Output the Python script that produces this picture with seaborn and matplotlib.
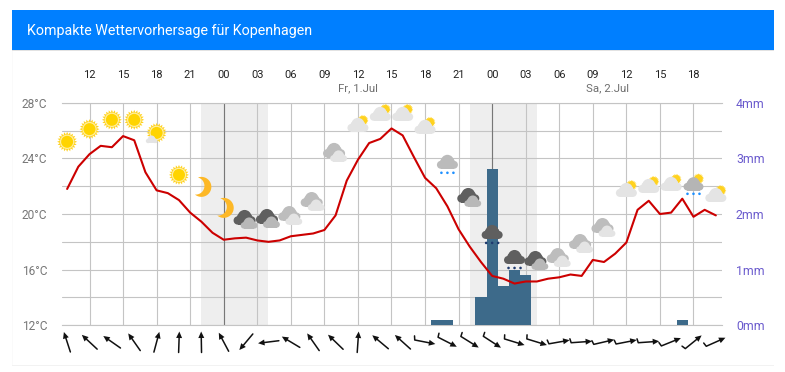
import numpy as np
import pandas as pd
import matplotlib
matplotlib.use('Agg')
import matplotlib.pyplot as plt
from matplotlib.patches import Circle, Polygon, Rectangle
from matplotlib.transforms import Affine2D, ScaledTranslation
import seaborn as sns

# Stunden seit Do 10:00, eine Messung pro Stunde
temperature = [21.8, 23.4, 24.3, 24.9, 24.8, 25.6, 25.3, 23.0, 21.7, 21.5, 21.0, 20.1, 19.45, 18.65,
               18.15, 18.25, 18.3, 18.1, 18.0, 18.1, 18.4, 18.5, 18.6, 18.85, 19.9, 22.4, 23.9, 25.1,
               25.4, 26.15, 25.65, 24.1, 22.6, 21.85, 20.55, 18.9, 17.65, 16.55,
               15.55, 15.35, 15.0, 15.15, 15.15, 15.35, 15.45, 15.65, 15.55, 16.7, 16.55, 17.15,
               17.95, 20.3, 20.95, 20.0, 20.1, 21.1, 19.8, 20.3, 19.9]
rain_hours = [33, 34, 37, 38, 39, 40, 41, 55]
rain_values = [0.1, 0.1, 0.5, 2.8, 0.7, 1.0, 0.9, 0.1]

hour_ticks = [2, 5, 8, 11, 14, 17, 20, 23, 26, 29, 32, 35, 38, 41, 44, 47, 50, 53, 56]
hour_labels = ['12', '15', '18', '21', '00', '03', '06', '09', '12', '15', '18', '21',
               '00', '03', '06', '09', '12', '15', '18']
temp_ticks = [28, 24, 20, 16, 12]
rain_ticks = [4, 3, 2, 1, 0]
midnights = [14, 38]
nights = [(12, 18), (36, 42)]
date_labels = ['Fr, 1.Jul', 'Sa, 2.Jul']
date_pos = [26, 48.3]

# Wettersymbole und Wind alle zwei Stunden
icon_hours = list(range(0, 59, 2))
icon_kinds = ['sun', 'sun', 'sun', 'sun', 'sun_cloud', 'sun', 'moon', 'moon', 'dark', 'dark', 'mid', 'mid',
              'mid', 'pale', 'pale', 'pale', 'pale', 'grey_rain', 'dark', 'dark_rain', 'dark_rain', 'dark',
              'mid', 'mid', 'mid', 'pale', 'pale', 'pale', 'grey_sun_rain', 'pale']
icon_temp = [25.19, 26.1, 26.77, 26.77, 25.83, 22.81, 21.95, 20.44, 19.58, 19.65, 19.86, 20.87,
             24.4, 26.41, 27.2, 27.2, 26.27, 23.68, 21.16, 18.64, 16.84, 16.63, 16.84, 17.85, 19.0,
             21.73, 22.02, 22.17, 22.17, 21.37]
wind_dir = [108, 137, 145, 125, 75, 88, 91, 118, 230, 187, 149, 125, 136, 86, 140, 138, -11, -27, -32, -33,
            -17, -17, 10, 4, 13, 11, 4, 22, 39, 24]
wind_barb = [False] * 16 + [True] * 14

sns.set_style('white')
plt.rcParams['font.family'] = ['Roboto', 'DejaVu Sans']

df = pd.DataFrame({'hour': np.arange(len(temperature)), 'temp': temperature})
df['rain'] = 0.0
df.loc[rain_hours, 'rain'] = rain_values

W, H = 785, 372
fig = plt.figure(figsize=(W / 100, H / 100), dpi=100, facecolor='white')

# Kopfzeile und Rahmen der Karte
fig.add_artist(Rectangle((12 / W, 1 - 50 / H), 762 / W, 40 / H, transform=fig.transFigure, color='#007FFF', lw=0))
fig.add_artist(Rectangle((12 / W, 1 - 51 / H), 762 / W, 1 / H, transform=fig.transFigure, color='#E2E2E2', lw=0))
fig.add_artist(Rectangle((12 / W, 1 - 365.5 / H), 762 / W, 1 / H, transform=fig.transFigure, color='#F2F2F2', lw=0))
fig.add_artist(Rectangle((12 / W, 1 - 365 / H), 1 / W, 314 / H, transform=fig.transFigure, color='#FAFAFA', lw=0))
fig.text(27 / W, 1 - 30.5 / H, 'Kompakte Wettervorhersage für Kopenhagen', color='white',
         fontsize=10.25, va='center', ha='left')

ax_rain = fig.add_axes([62 / W, 1 - 325.3 / H, 660 / W, 222.6 / H])
ax = ax_rain.twinx()
ax.patch.set_alpha(0)

GRID = '#C4C4C4'
for start, end in nights:
    ax_rain.axvspan(start, end, color='#EEEEEE', lw=0, zorder=0)
ax_rain.set_axisbelow(True)
ax_rain.grid(True, color=GRID, lw=0.8)
for m in midnights:
    ax_rain.axvline(m, color='#777777', lw=0.8, zorder=1)

sns.barplot(data=df, x='hour', y='rain', native_scale=True, width=1.0, color='#3D6A8A', saturation=1,
            lw=0, zorder=3, ax=ax_rain)
sns.lineplot(data=df, x='hour', y='temp', color='#CC0000', lw=1.5, ax=ax, zorder=4)

xlim = (-0.459, 58.55)
ax_rain.set_xlim(xlim)
ax.set_xlim(xlim)
ax_rain.set_ylim(0, 4)
ax.set_ylim(12, 28)
ax_rain.set_yticks(np.arange(0, 4.1, 0.5))
ax_rain.set_yticklabels([f'{v:g}mm' if v in rain_ticks else '' for v in np.arange(0, 4.1, 0.5)])
ax_rain.yaxis.tick_right()
ax_rain.set_xticks(hour_ticks, hour_labels)
ax_rain.xaxis.tick_top()
ax.set_yticks(temp_ticks, [f'{v}°C' for v in temp_ticks])
ax.yaxis.tick_left()
ax.grid(False)
ax.set_xlabel('')
ax.set_ylabel('')
ax_rain.set_xlabel('')
ax_rain.set_ylabel('')
ax.xaxis.set_visible(False)
ax_rain.tick_params(axis='x', length=0, pad=16, labelsize=8, labelcolor='#222222')
ax_rain.tick_params(axis='y', length=0, pad=10, labelsize=8.8, labelcolor='#6A5ACD')
ax.tick_params(axis='y', length=0, pad=10.7, labelsize=8.6, labelcolor='#777777')
for a in (ax, ax_rain):
    for s in a.spines.values():
        s.set_visible(False)
for s in ('top', 'bottom'):
    ax_rain.spines[s].set_visible(True)
    ax_rain.spines[s].set_color(GRID)
    ax_rain.spines[s].set_linewidth(0.8)

for label, pos in zip(date_labels, date_pos):
    ax.text(pos, 1.066, label, transform=ax.get_xaxis_transform(), ha='center', va='center', fontsize=8.2,
            color='#6E6E6E')


# Symbole in Pixeln um den Ankerpunkt zeichnen
def cloud(tr, x, y, s, color, z=6):
    for cx, cy, r in [(-6.5, -2, 4), (6.5, -2, 4), (0, 1.5, 6.5), (3, 0.5, 4.5), (-3, 0.5, 4.5)]:
        ax.add_patch(Circle((x + cx * s, y + cy * s), r * s, color=color, lw=0, transform=tr, zorder=z, clip_on=False))
    ax.add_patch(Rectangle((x - 6.5 * s, y - 6 * s), 13 * s, 5 * s, color=color, lw=0, transform=tr, zorder=z, clip_on=False))


def sun(tr, x, y, r, z=6):
    a = np.linspace(0, 2 * np.pi, 40, endpoint=False)
    rr = np.where(np.arange(40) % 2 == 0, r, r * 0.74)
    ax.add_patch(Polygon(np.c_[x + rr * np.cos(a), y + rr * np.sin(a)], color='#FFD21F', lw=0, transform=tr, zorder=z, clip_on=False))
    if r > 7:
        ax.add_patch(Circle((x, y), r * 0.72, color='#FFEFA0', lw=0, transform=tr, zorder=z, clip_on=False))
        ax.add_patch(Circle((x, y), r * 0.6, color='#FFD400', lw=0, transform=tr, zorder=z, clip_on=False))


def moon(tr):
    a = np.radians(np.linspace(-120, 120, 40))
    outer = np.c_[10 * np.cos(a), 10 * np.sin(a)]
    b = np.radians(np.linspace(85.4, -85.4, 40))
    inner = np.c_[-5.69 + 8.69 * np.cos(b), 8.69 * np.sin(b)]
    ax.add_patch(Polygon(np.r_[outer, inner], color='#FDB827', lw=0, zorder=6, clip_on=False,
                         transform=Affine2D().rotate_deg(-10) + tr))


def drops(tr, color):
    for dx in (-6, 0, 6):
        ax.add_patch(Circle((dx, -10), 1.3, color=color, lw=0, transform=tr, zorder=6, clip_on=False))


def draw_icon(kind, tr):
    if kind == 'sun':
        sun(tr, 0, 0, 10)
    elif kind == 'sun_cloud':
        sun(tr, 0, 0, 10)
        cloud(tr, -5, -7, 0.55, '#E4E4E4', 7)
    elif kind == 'moon':
        moon(tr)
    elif kind == 'dark':
        cloud(tr, -1.5, 1.5, 1.05, '#5F5F5F')
        cloud(tr, 3, -4, 0.8, '#B8B8B8', 7)
    elif kind == 'mid':
        cloud(tr, -1.5, 1.5, 1.05, '#BDBDBD')
        cloud(tr, 3, -4, 0.8, '#E4E4E4', 7)
    elif kind == 'pale':
        sun(tr, 5, 4.5, 5.5)
        cloud(tr, 0, -1, 1.0, '#E4E4E4', 7)
    elif kind == 'grey_rain':
        cloud(tr, 0, 0, 1.0, '#BBBBBB')
        drops(tr, '#1E90FF')
    elif kind == 'dark_rain':
        cloud(tr, 0, 0, 1.0, '#5F5F5F')
        drops(tr, '#1F3A6E')
    elif kind == 'grey_sun_rain':
        sun(tr, 5, 5, 5.5)
        cloud(tr, 0, -1, 0.95, '#B5B5B5', 7)
        drops(tr, '#1E90FF')


for h, kind, t in zip(icon_hours, icon_kinds, icon_temp):
    draw_icon(kind, Affine2D() + ScaledTranslation(h, t, ax.transData))

# Windpfeile unter der Achse
wind_y = 10.8
for h, deg, barb in zip(icon_hours, wind_dir, wind_barb):
    tr = Affine2D().rotate_deg(deg) + ScaledTranslation(h, wind_y, ax.transData)
    xs, ys = [-10.5, 6], [0, 0]
    if barb:
        xs, ys = [-11.5, -10.5, 6], [4, 0, 0]
    ax.plot(xs, ys, color='#111111', lw=1.1, transform=tr, clip_on=False, zorder=6)
    ax.add_patch(Polygon([[10.5, 0], [4, 3], [4, -3]], color='#111111', lw=0, transform=tr, clip_on=False, zorder=6))

ax.set_xlim(xlim)
ax.set_ylim(12, 28)
plt.savefig('out.png', dpi=100)
